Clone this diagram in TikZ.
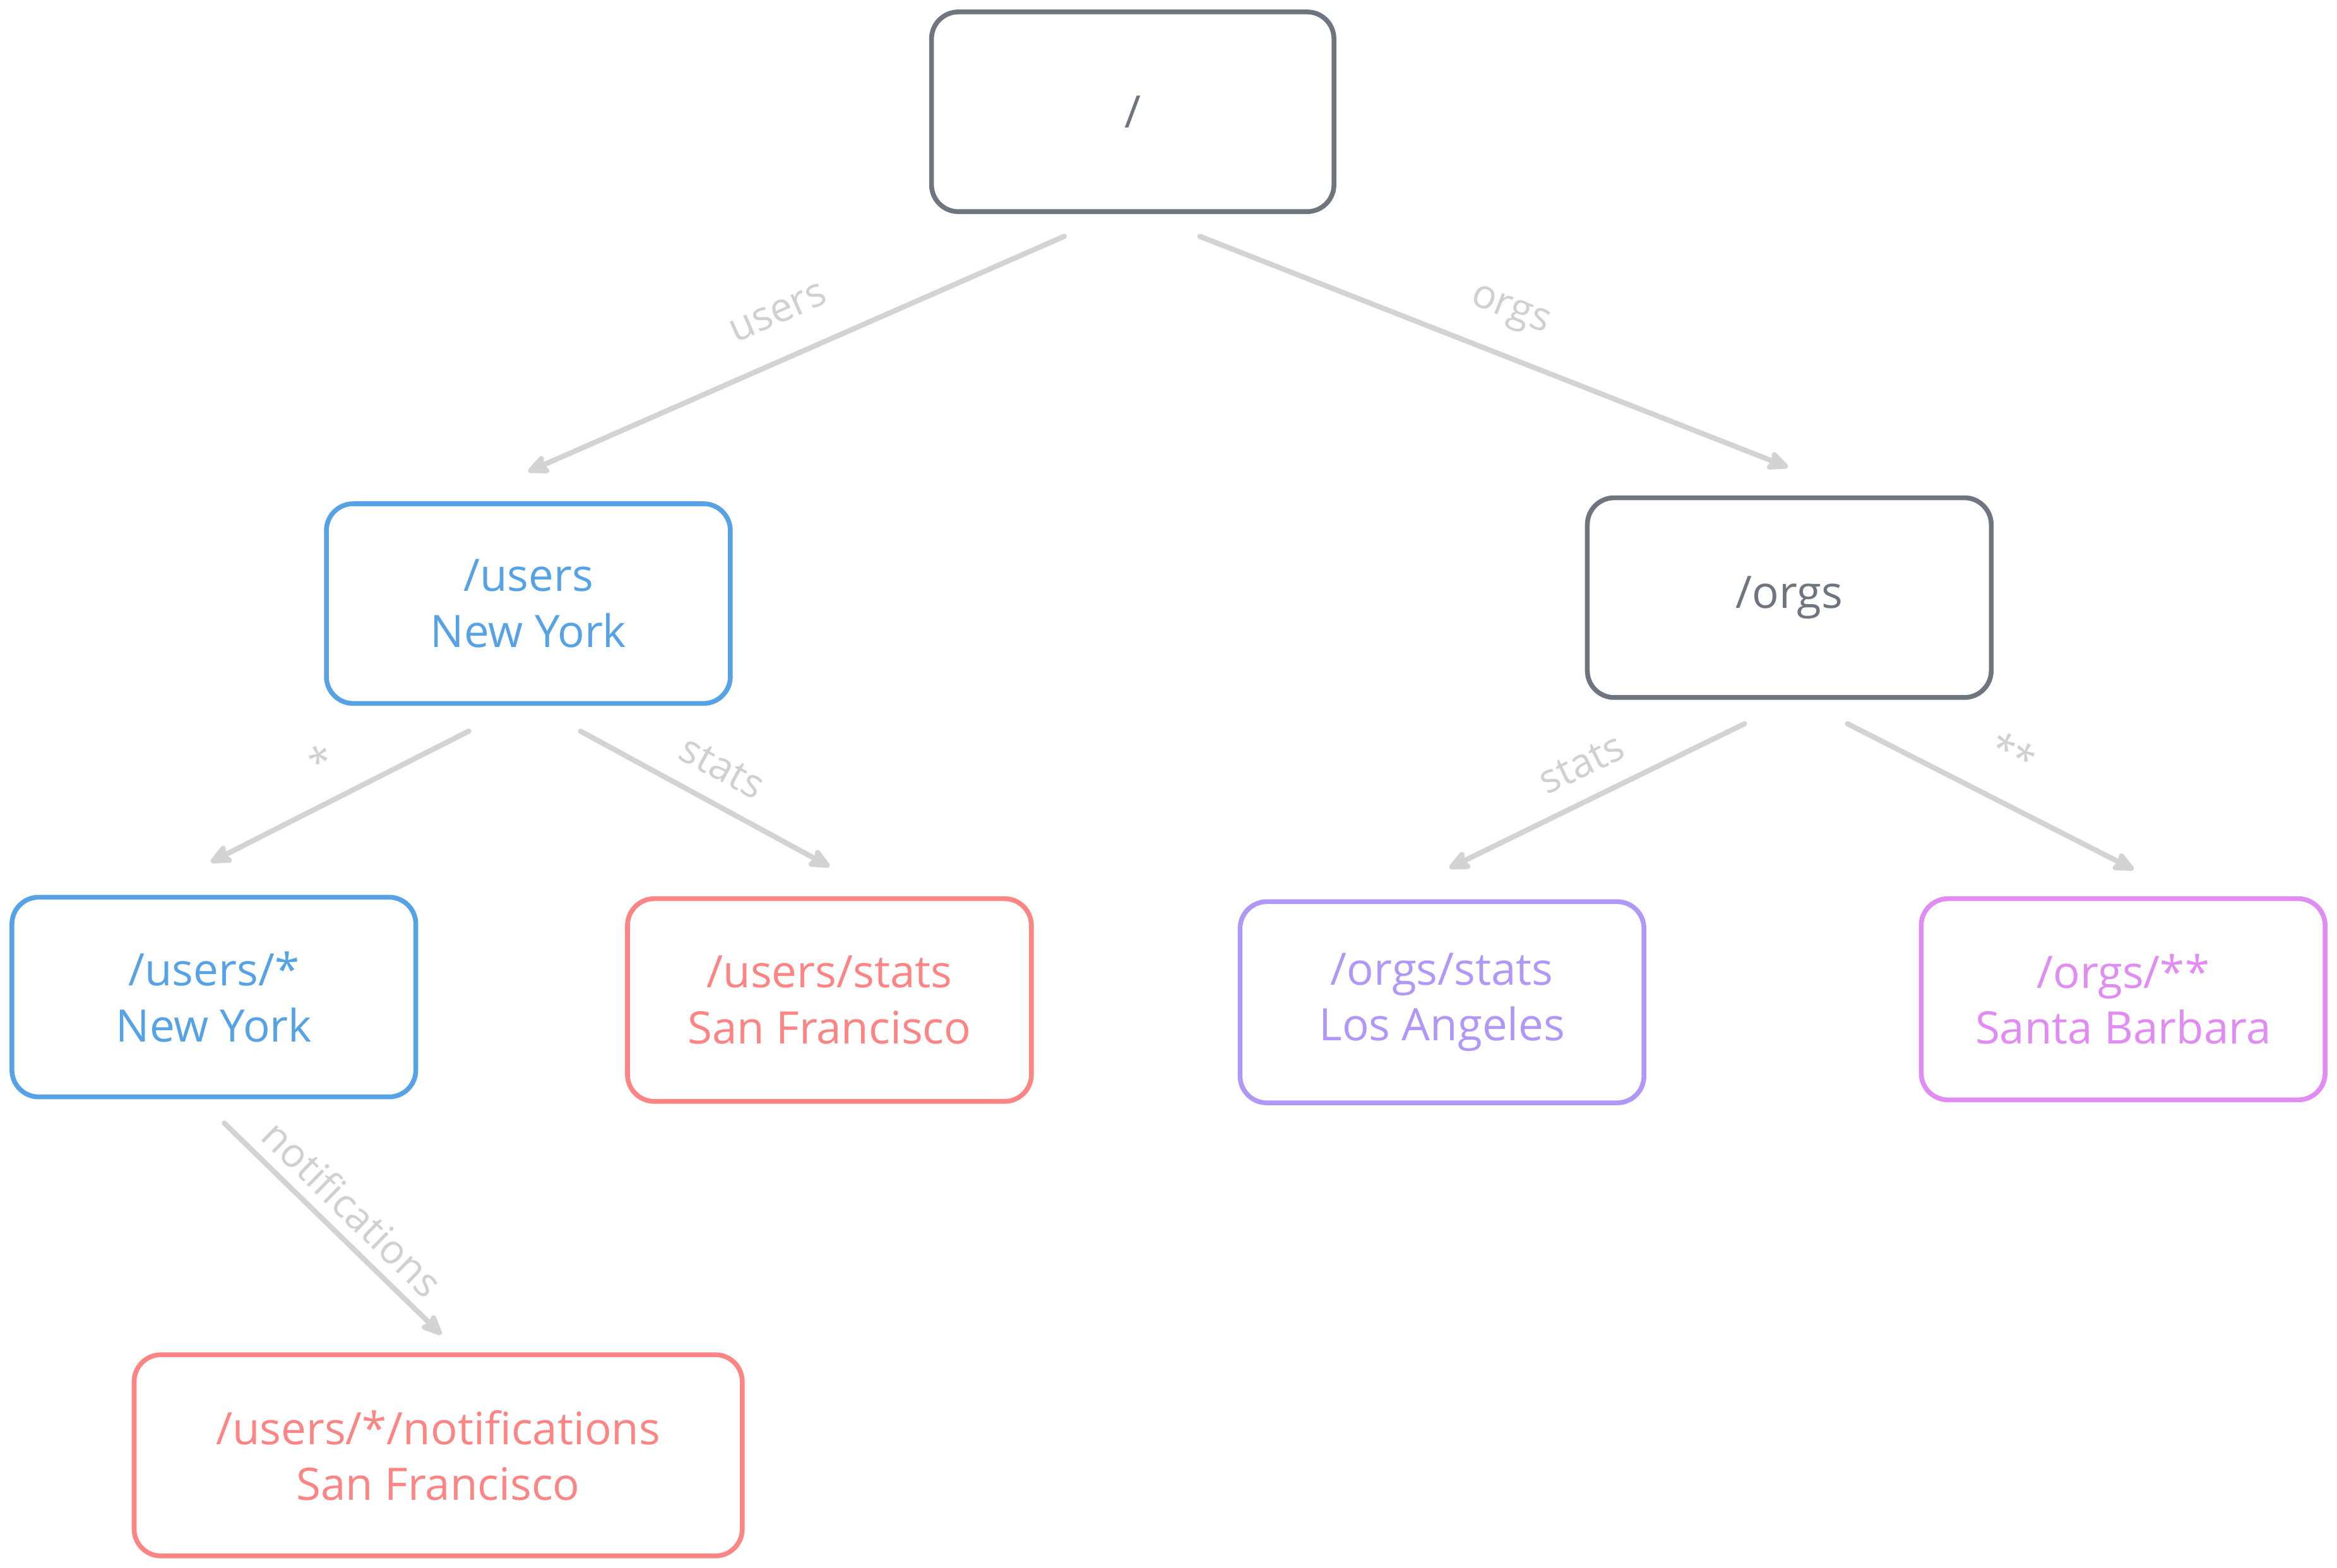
\documentclass[tikz,border=0pt]{standalone}
\usepackage{fontspec}
\setmainfont{Open Sans}
\usetikzlibrary{arrows.meta}
\definecolor{cgray}{HTML}{6E757E}
\definecolor{cblue}{HTML}{56A2E4}
\definecolor{cred}{HTML}{FF8585}
\definecolor{cpurple}{HTML}{B198F8}
\definecolor{cpink}{HTML}{E08CF2}
\definecolor{cline}{HTML}{D3D3D3}
\definecolor{clabel}{HTML}{D0D0D0}
\begin{document}
\begin{tikzpicture}[x=1pt,y=1pt,
  box/.style={draw=#1, text=#1, line width=3.2pt, rounded corners=18pt,
    minimum width=271pt, minimum height=134pt, align=center,
    font=\fontsize{30}{37.5}\selectfont, inner sep=0pt},
  conn/.style={draw=cline, line width=3.5pt, line cap=round,
    -{Stealth[length=17pt,width=15pt,inset=3pt,round]}},
  lbl/.style={text=clabel, font=\fontsize{27}{30}\selectfont, sloped, inner sep=0pt, midway}]
\useasboundingbox[fill=white] (0,0) rectangle (1568,-1052);

\node[box=cgray, minimum width=270pt] (root) at (760,-75) {/};
\node[box=cblue] (users) at (354.5,-405) {/users\\New York};
\node[box=cgray] (orgs) at (1200.5,-401) {/orgs};
\node[box=cblue] (ustar) at (143.5,-669) {/users/*\\New York};
\node[box=cred, minimum height=136pt] (ustats) at (556.5,-671) {/users/stats\\San Francisco};
\node[box=cpurple, minimum height=135pt] (ostats) at (967.5,-672.5) {/orgs/stats\\Los Angeles};
\node[box=cpink, minimum height=135pt] (oss) at (1424.5,-670.5) {/orgs/**\\Santa Barbara};
\node[box=cred, minimum width=408pt, minimum height=135pt] (notif) at (294,-976.5) {/users/*/notifications\\San Francisco};

\draw[conn] ([xshift=-46pt,yshift=-15pt]root.south) -- node[lbl,above=21pt]{users} ([yshift=20pt]users.north);
\draw[conn] ([xshift=45pt,yshift=-15pt]root.south) -- node[lbl,above=16pt]{orgs} ([xshift=-1pt,yshift=19pt]orgs.north);
\draw[conn] ([xshift=-40pt,yshift=-17pt]users.south) -- node[lbl,above=15pt]{*} ([xshift=-2pt,yshift=22pt]ustar.north);
\draw[conn] ([xshift=35pt,yshift=-17pt]users.south) -- node[lbl,above=13pt]{stats} ([yshift=20pt]ustats.north);
\draw[conn] ([xshift=-30pt,yshift=-16pt]orgs.south) -- node[lbl,above=13pt]{stats} ([xshift=5pt,yshift=21pt]ostats.north);
\draw[conn] ([xshift=39pt,yshift=-16pt]orgs.south) -- node[lbl,above=21pt]{**} ([xshift=7pt,yshift=18pt]oss.north);
\draw[conn] ([xshift=7pt,yshift=-16pt]ustar.south) -- node[lbl,above=7pt]{notifications} ([xshift=2pt,yshift=12pt]notif.north);
\end{tikzpicture}
\end{document}
